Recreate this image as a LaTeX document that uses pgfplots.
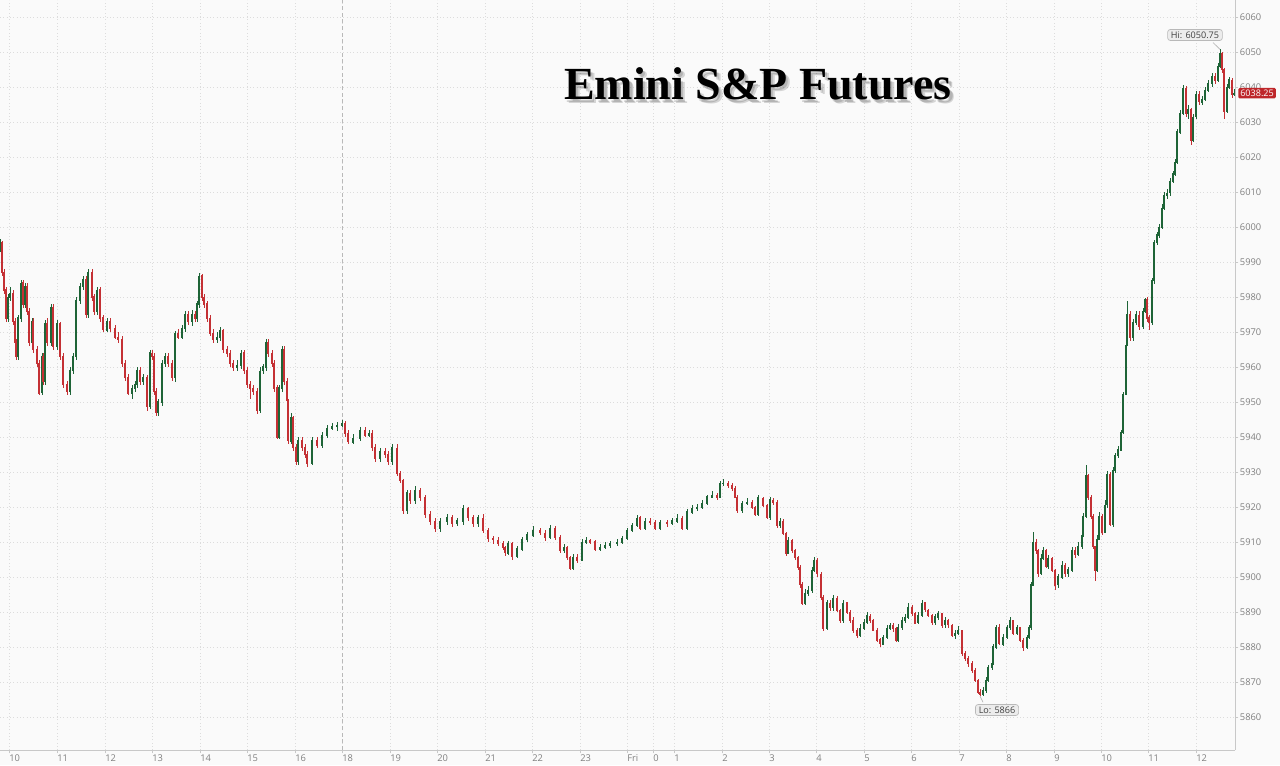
\documentclass[border=0pt]{standalone}
\usepackage{fontspec}
\usepackage{pgfplots}
\usepackage{pgfplotstable}
\pgfplotsset{compat=1.18}
\setsansfont{Open Sans}
\newfontfamily\titlefont{Liberation Serif}

\definecolor{bgcol}{RGB}{250,250,250}
\definecolor{upcol}{RGB}{30,100,55}
\definecolor{dncol}{RGB}{196,48,52}
\definecolor{gridcol}{RGB}{220,220,220}
\definecolor{axcol}{RGB}{200,200,200}
\definecolor{tickcol}{RGB}{128,128,128}
\definecolor{tagred}{RGB}{190,38,42}

% x = pixel column of the bar, o h l c = open high low close
\pgfplotstableread{
x o h l c
0 5994 5996.5 5993 5995.5
2 5995.5 5996 5986 5987
4 5987 5988 5981 5982
6 5982 5983 5973 5974
8 5974 5981 5973 5980
10 5980 5983 5979 5981
13 5981 5982 5972 5973
15 5973 5974 5966 5967
16 5967 5968 5962 5963
18 5963 5975 5962 5974
21 5974 5985 5973 5984
23 5984 5985 5977 5978
25 5978 5984 5977 5983
27 5983 5984 5975 5976
29 5976 5977 5966 5967
32 5967 5974 5966 5973
33 5973 5974 5964 5965
37 5965 5966 5960 5961
39 5961 5962 5952 5952.6
42 5952.6 5964 5952 5963
43 5963 5964 5955 5956
45 5956 5973.5 5955 5972.5
47 5972.5 5974 5966 5967
51 5967 5978 5966 5977
53 5977 5978 5965 5966
57 5966 5973.5 5965 5972.5
60 5972.5 5973 5962 5963
63 5963 5964 5954 5955
67 5955 5956 5952 5953
70 5953 5960 5952 5959
73 5959 5964 5958 5963
76 5963 5980 5962 5979
80 5979 5984 5978 5983
83 5983 5986 5982 5985
86 5985 5986 5974 5975
88 5975 5988 5974 5987
92 5987 5988 5979 5980
94 5980 5981 5975 5976
97 5976 5983 5975 5982
100 5982 5983 5973 5974
103 5974 5975 5970 5970.6
107 5970.6 5974 5970 5973
110 5973 5974 5970 5971
115 5971 5972 5968 5968.6
118 5968.6 5970 5967 5968
122 5968 5969 5960 5961
125 5961 5962 5956 5957
128 5957 5958 5952 5952.6
132 5952.6 5955 5951 5954
135 5954 5956 5953 5955
137 5955 5960 5954 5959
140 5959 5960 5955 5956
143 5956 5958 5955 5957
147 5957 5958 5947.5 5948.6
150 5948.6 5965 5948 5964
152 5964 5965 5962 5963
154 5963 5964 5952 5953
156 5953 5954 5946 5947
158 5947 5951 5946 5950
162 5950 5962 5949 5961
165 5961 5964 5960 5963
168 5963 5964 5960 5961
172 5961 5962 5956 5957
175 5957 5970.5 5956 5969.7
178 5969.7 5971 5968 5968.6
182 5968.6 5972 5968 5971
185 5971 5976 5970 5975
188 5975 5976 5972 5973
192 5973 5976.5 5972 5975
195 5975 5976 5973 5974
197 5974 5979 5973 5978
199 5978 5987 5977 5986
202 5986 5986.5 5979 5980
204 5980 5981 5977 5978
207 5978 5979 5973 5974
210 5974 5975 5969 5969.7
213 5969.7 5971 5967 5968
217 5968 5970 5967 5968.6
220 5968.6 5971.5 5967.5 5970.6
223 5970.6 5971 5964 5965
227 5965 5966 5963 5964
230 5964 5965 5960 5961
233 5961 5962 5959 5960
237 5960 5962 5959 5960.6
241 5960.6 5965 5959.5 5964
244 5964 5965 5958 5959
247 5959 5960 5954 5955
250 5955 5956 5951 5954
253 5954 5955 5952 5953
257 5953 5954 5946.5 5947.7
260 5947.7 5960 5947 5959
263 5959 5961 5958 5960
266 5960 5968 5959 5967
268 5967 5968 5963 5964
272 5964 5965 5960 5961
274 5961 5962 5953 5954
277 5954 5955 5939.5 5940
279 5940 5955 5939.5 5954
282 5954 5966 5953 5965
284 5965 5966 5955 5956
287 5956 5957 5950 5950.6
288 5950.6 5951 5938 5939
291 5939 5947 5938 5945.7
293 5945.7 5946 5936 5937
296 5937 5938 5932 5933
298 5933 5940 5932 5939
302 5939 5940 5936 5937
305 5937 5938 5934 5935
307 5935 5936 5931.5 5932.6
312 5932.6 5940 5932 5939
317 5939 5940 5937 5937.7
322 5937.7 5941.5 5937 5940.6
327 5940.6 5943.5 5940 5942.6
332 5942.6 5944 5942 5943
337 5943 5944.5 5942 5943.4
342 5943.4 5945 5943 5944
345 5944 5944.5 5940 5941
348 5941 5942 5938 5938.6
353 5938.6 5941 5938 5939.7
360 5939.7 5943 5939 5942
365 5942 5943 5940 5940.6
369 5940.6 5942 5940 5941
372 5941 5942 5936 5937
375 5937 5938 5933 5934
380 5934 5937 5933 5936
385 5936 5937 5934 5935
388 5935 5936 5932 5933
392 5933 5938 5932 5937
397 5937 5938 5929 5929.7
400 5929.7 5930.5 5927 5927.7
403 5927.7 5928 5918 5919
407 5919 5925 5918 5924
410 5924 5925 5921 5922
415 5922 5926 5921 5924.9
420 5924.9 5925.5 5922 5922.9
425 5922.9 5923.5 5917 5918
430 5918 5919 5915 5916
435 5916 5917 5913 5914
440 5914 5917 5913 5916
447 5916 5918 5915 5917
452 5917 5918 5914.5 5915.4
457 5915.4 5917 5914.5 5916
463 5916 5920.5 5915 5919.7
468 5919.7 5920 5916 5917
473 5917 5918 5914.5 5915.4
478 5915.4 5918 5914.5 5917
483 5917 5918 5912.5 5913.4
488 5913.4 5914 5910 5911
493 5911 5912 5909.5 5910.6
498 5910.6 5911.5 5909 5909.7
503 5909.7 5910.5 5908 5908.5
505 5908.5 5909 5906 5907
508 5907 5910.5 5906.5 5909.7
512 5909.7 5910 5905 5906
517 5906 5909 5905.5 5908
522 5908 5911.5 5907.5 5910.6
527 5910.6 5913 5910 5912
533 5912 5914.5 5911.5 5913.4
540 5913.4 5914 5912 5912.6
545 5912.6 5913.5 5910.5 5911.4
550 5911.4 5915 5911 5914
555 5914 5914.5 5910.5 5911.4
560 5911.4 5912 5907 5907.7
564 5907.7 5909.5 5907 5908.6
567 5908.6 5909 5905 5905.7
570 5905.7 5906 5902 5902.6
573 5902.6 5906.5 5902 5905.7
577 5905.7 5906.5 5904 5904.9
582 5904.9 5911 5904.5 5910
586 5910 5911.5 5909.5 5910.6
590 5910.6 5911 5909.5 5910
595 5910 5910.5 5907.5 5908
600 5908 5909.5 5907.5 5908.6
605 5908.6 5910 5908 5909
610 5909 5910.5 5908.5 5909.7
617 5909.7 5911 5909 5910
622 5910 5912 5909.5 5911
627 5911 5914 5910.5 5913.4
632 5913.4 5915.5 5913 5914.9
637 5914.9 5918 5914.5 5917
640 5917 5917.5 5913.5 5914
645 5914 5917 5913.5 5916
650 5916 5917 5915 5915.7
655 5915.7 5916.5 5913.5 5914
660 5914 5916.5 5913.5 5915.7
667 5915.7 5916.5 5914.5 5915.4
672 5915.4 5917 5915 5916
677 5916 5918 5915.5 5916.9
682 5916.9 5917.5 5913.5 5914
687 5914 5919.5 5913.5 5918.6
692 5918.6 5920.5 5918 5919.7
697 5919.7 5921 5919 5920
702 5920 5922 5919.5 5921
707 5921 5923.5 5920.5 5922.9
712 5922.9 5924.5 5922.5 5923.4
717 5923.4 5924 5922 5922.9
720 5922.9 5927.5 5922.5 5926.9
723 5926.9 5928 5926 5927
728 5927 5927.5 5925.5 5926.3
732 5926.3 5926.8 5924.5 5925.4
735 5925.4 5926 5922.5 5922.9
737 5922.9 5923.5 5918.5 5919
742 5919 5922 5918.5 5921
747 5921 5922.5 5920.5 5921.4
752 5921.4 5922 5919.5 5920
755 5920 5920.5 5917.5 5918
758 5918 5923.5 5917.5 5922.6
763 5922.6 5923 5920 5920.6
767 5920.6 5921 5916.5 5917
770 5917 5923 5916.5 5922
773 5922 5922.5 5920.5 5921.4
777 5921.4 5922 5914 5914.9
780 5914.9 5917 5914 5916
783 5916 5916.5 5912 5912.6
786 5912.6 5913 5906 5906.9
788 5906.9 5911.5 5906.5 5910.6
792 5910.6 5911 5907 5907.7
795 5907.7 5908 5905 5905.7
798 5905.7 5906 5902 5902.9
800 5902.9 5903.5 5897 5898
802 5898 5898.5 5892 5892.6
805 5892.6 5896.5 5892 5895.4
808 5895.4 5897.5 5894.5 5896.3
812 5896.3 5903 5895.5 5902
814 5902 5906 5901.5 5904.9
817 5904.9 5905.5 5900 5901
821 5901 5901.5 5893.5 5894.3
823 5894.3 5895 5884.5 5885.4
827 5885.4 5893.5 5885 5892.6
830 5892.6 5893.5 5890.5 5891.4
833 5891.4 5895 5890.5 5894
837 5894 5894.5 5890 5890.6
840 5890.6 5891 5887 5887.7
843 5887.7 5893.5 5887 5892.6
847 5892.6 5893 5889.5 5890
850 5890 5890.5 5887 5887.7
853 5887.7 5888.5 5884 5884.9
857 5884.9 5885.5 5882.5 5883.4
860 5883.4 5886.5 5883 5885.4
864 5885.4 5888 5885 5887
867 5887 5890 5886.5 5889
870 5889 5889.5 5887 5887.7
873 5887.7 5888 5884.5 5884.9
877 5884.9 5885.5 5881.5 5882
880 5882 5882.5 5880 5881
883 5881 5883.5 5880.5 5882.9
887 5882.9 5886.5 5882.5 5885.4
890 5885.4 5887 5885 5886.3
893 5886.3 5887 5884.5 5885.4
896 5885.4 5886 5881.5 5882
898 5882 5886.5 5881.5 5885.7
902 5885.7 5888.5 5885 5887.7
905 5887.7 5889.5 5887 5888.6
908 5888.6 5892.5 5888 5891.4
912 5891.4 5892 5889 5889.7
915 5889.7 5890 5886.5 5887
918 5887 5890 5886.5 5889
922 5889 5893.5 5888.5 5892.6
925 5892.6 5893 5890 5890.6
928 5890.6 5891 5888.5 5889
932 5889 5889.5 5886.5 5887
935 5887 5889.5 5886.5 5888.6
938 5888.6 5890.5 5888 5889.7
942 5889.7 5890 5885.5 5886.3
945 5886.3 5888.5 5885.5 5887.7
948 5887.7 5888 5885.5 5886.3
952 5886.3 5886.5 5883 5883.4
955 5883.4 5885 5882.5 5884
958 5884 5886 5883.5 5884.9
962 5884.9 5885 5877.5 5878.3
965 5878.3 5879 5876 5876.9
968 5876.9 5877.5 5874.5 5875.4
972 5875.4 5876 5872.5 5873.4
975 5873.4 5874 5870 5870.6
978 5870.6 5871 5866.5 5867
980 5867 5868 5866 5866.5
983 5866.5 5868.5 5866 5867.7
986 5867.7 5871.5 5867 5870.6
988 5870.6 5875 5870 5874.3
992 5874.3 5876.5 5873.5 5875.4
993 5875.4 5881 5875 5880
996 5880 5886.5 5879.5 5885.7
999 5885.7 5886.5 5880.5 5881
1003 5881 5884 5880.5 5882.9
1007 5882.9 5886.5 5882.5 5885.7
1010 5885.7 5888.5 5885 5887.7
1013 5887.7 5888 5883.5 5884
1017 5884 5886.5 5883.5 5885.7
1020 5885.7 5886 5881.5 5882
1023 5882 5882.5 5879 5880
1027 5880 5883.5 5879.5 5882.9
1029 5882.9 5886.5 5882.5 5885.7
1031 5885.7 5898.5 5885 5897.8
1033 5897.8 5913 5897.5 5910
1036 5910 5911 5906.5 5907.6
1038 5907.6 5908 5900 5901
1041 5901 5906.5 5900.5 5905.4
1043 5905.4 5908.5 5905 5907.6
1046 5907.6 5908 5902.5 5903.3
1048 5903.3 5906.5 5902.5 5905.4
1052 5905.4 5906 5901.5 5902
1055 5902 5902.5 5896.5 5897.8
1058 5897.8 5901 5897 5900
1062 5900 5904.5 5899.5 5903.3
1065 5903.3 5904 5900 5901
1068 5901 5903 5900 5902
1072 5902 5908.5 5901.5 5907.6
1075 5907.6 5908.5 5905.5 5906.5
1078 5906.5 5910 5906 5908.7
1082 5908.7 5913 5908 5912
1083 5912 5918.5 5911.5 5917.4
1086 5917.4 5932 5917 5929
1088 5929 5929.5 5922 5922.8
1091 5922.8 5923.5 5916.5 5917.4
1093 5917.4 5918 5908 5908.7
1095 5908.7 5909 5899 5902
1097 5902 5912 5901.5 5910.9
1099 5910.9 5918.5 5910.5 5917.4
1102 5917.4 5918 5912 5913
1105 5913 5922 5912.5 5920.7
1107 5920.7 5930.5 5920 5929.3
1110 5929.3 5930 5914.5 5915.2
1113 5915.2 5931.5 5914.5 5930.4
1115 5930.4 5935.5 5930 5934.8
1118 5934.8 5937.5 5934 5936.4
1121 5936.4 5942 5936 5941.3
1123 5941.3 5953 5941 5952.2
1126 5952.2 5967 5952 5966.3
1127 5966.3 5979 5966 5975
1130 5975 5976 5967.5 5968.5
1133 5968.5 5974 5967.5 5972.8
1136 5972.8 5976 5972 5975
1139 5975 5976 5970.5 5971.7
1143 5971.7 5977 5971 5976
1145 5976 5980 5975.5 5979.3
1147 5979.3 5980 5973 5974
1149 5974 5975 5970.5 5972.8
1152 5972.8 5985.5 5972 5984.8
1154 5984.8 5996.5 5984 5995.7
1157 5995.7 5998.5 5995 5997.8
1159 5997.8 6001 5997 6000
1162 6000 6006.5 5999.5 6005.4
1164 6005.4 6010 6005 6009.2
1167 6009.2 6011 6008 6009.8
1170 6009.8 6014 6009 6013
1173 6013 6016 6012.5 6015.2
1175 6015.2 6019.5 6014.5 6018.5
1177 6018.5 6028 6018 6027.2
1180 6027.2 6033.5 6026.5 6032.6
1183 6032.6 6040.5 6032 6039.7
1186 6039.7 6040.5 6031.5 6032.6
1188 6032.6 6035 6031 6033.7
1191 6033.7 6034 6023.5 6025
1193 6025 6032.5 6024.5 6031.5
1196 6031.5 6039 6031 6038
1199 6038 6039 6035 6035.9
1202 6035.9 6037.5 6035 6036.5
1205 6036.5 6040 6036 6039.1
1208 6039.1 6042 6038.5 6041
1212 6041 6044 6040 6043
1215 6043 6044 6041 6042
1218 6042 6047 6041.5 6046
1220 6046 6050.75 6045.5 6049.5
1222 6049.5 6050 6044 6045
1224 6045 6045.5 6031 6033
1227 6033 6041 6032.5 6040
1229 6040 6043 6039.5 6042
1232 6042 6042.5 6037 6038
1234 6038 6039.5 6037.5 6038.25
}\candles

\begin{document}
\begin{tikzpicture}
\path[use as bounding box, fill=bgcol] (0,-11.25pt) rectangle (960pt,562.5pt);
\begin{axis}[
  at={(0,0)}, anchor=south west,
  width=926.25pt, height=562.5pt, scale only axis,
  xmin=0, xmax=1235, ymin=5850.57, ymax=6064.86,
  axis x line*=bottom, axis y line*=right,
  axis line style={draw=axcol, line width=0.75pt, -},
  xtick={9,57,105,152,200,247,295,342,390,437,485,532,580,627,653,674,722,769,816,864,911,959,1006,1054,1101,1148,1196},
  xticklabels={10,11,12,13,14,15,16,18,19,20,21,22,23,Fri,0,1,2,3,4,5,6,7,8,9,10,11,12},
  ytick={5860,5870,...,6060},
  tick align=outside, major tick length=2.5pt,
  tick style={draw=axcol, line width=0.5pt},
  grid=major, grid style={draw=gridcol, line width=0.5pt, dotted},
  tick label style={font=\sffamily\fontsize{7}{8}\selectfont, text=tickcol},
  x tick label style={anchor=north west, inner sep=1pt, xshift=-1pt},
  y tick label style={anchor=west, inner sep=1pt, /pgf/number format/1000 sep={}},
  /pgf/number format/assume math mode=true,
  clip=false,
]
% session break
\draw[draw=gray!55, line width=0.5pt, dash pattern=on 3pt off 2pt] (axis cs:342,5850.57) -- (axis cs:342,6064.86);

% wicks
\addplot[draw=none, mark=none, forget plot,
  restrict expr to domain={\thisrow{c}-\thisrow{o}}{0:1000},
  error bars/.cd, y dir=both, y explicit, error mark=none,
  error bar style={draw=upcol, line width=0.6pt}]
  table[x=x, y expr={(\thisrow{h}+\thisrow{l})/2}, y error expr={(\thisrow{h}-\thisrow{l})/2}] {\candles};
\addplot[draw=none, mark=none, forget plot,
  restrict expr to domain={\thisrow{c}-\thisrow{o}}{-1000:-0.001},
  error bars/.cd, y dir=both, y explicit, error mark=none,
  error bar style={draw=dncol, line width=0.6pt}]
  table[x=x, y expr={(\thisrow{h}+\thisrow{l})/2}, y error expr={(\thisrow{h}-\thisrow{l})/2}] {\candles};
% bodies
\addplot[draw=none, mark=none, forget plot,
  restrict expr to domain={\thisrow{c}-\thisrow{o}}{0:1000},
  error bars/.cd, y dir=both, y explicit, error mark=none,
  error bar style={draw=upcol, line width=1.6pt}]
  table[x=x, y expr={(\thisrow{o}+\thisrow{c})/2}, y error expr={abs(\thisrow{c}-\thisrow{o})/2+0.15}] {\candles};
\addplot[draw=none, mark=none, forget plot,
  restrict expr to domain={\thisrow{c}-\thisrow{o}}{-1000:-0.001},
  error bars/.cd, y dir=both, y explicit, error mark=none,
  error bar style={draw=dncol, line width=1.6pt}]
  table[x=x, y expr={(\thisrow{o}+\thisrow{c})/2}, y error expr={abs(\thisrow{c}-\thisrow{o})/2+0.15}] {\candles};

% title with soft shadow
\node[font=\titlefont\bfseries\fontsize{34.5}{40}\selectfont, anchor=base, text=black, opacity=0.15]
  at ([xshift=1.6pt, yshift=-1.6pt]axis cs:758,6036.3) {Emini S\&P Futures};
\node[font=\titlefont\bfseries\fontsize{34.5}{40}\selectfont, anchor=base, text=black, opacity=0.15]
  at ([xshift=3pt, yshift=-3pt]axis cs:758,6036.3) {Emini S\&P Futures};
\node[font=\titlefont\bfseries\fontsize{34.5}{40}\selectfont, anchor=base, text=black]
  at (axis cs:758,6036.3) {Emini S\&P Futures};

% high / low callouts
\draw[draw=gray!60, line width=0.5pt] (axis cs:1213,6052.7) -- (axis cs:1220,6050.75);
\node[font=\sffamily\fontsize{6.8}{8}\selectfont, text=black!75, fill=gray!15, draw=gray!55,
  rounded corners=2pt, inner xsep=2.5pt, inner ysep=1.6pt, line width=0.5pt]
  at (axis cs:1195,6054.86) {Hi: 6050.75};
\draw[draw=gray!60, line width=0.5pt] (axis cs:983,5864.2) -- (axis cs:980,5866);
\node[font=\sffamily\fontsize{6.8}{8}\selectfont, text=black!75, fill=gray!15, draw=gray!55,
  rounded corners=2pt, inner xsep=2.5pt, inner ysep=1.6pt, line width=0.5pt]
  at (axis cs:997,5862.0) {Lo: 5866};

% last price tag
\node[font=\sffamily\fontsize{6.8}{8}\selectfont, text=white, fill=tagred,
  rounded corners=1pt, inner xsep=1.5pt, inner ysep=1.4pt]
  at (axis cs:1257,6038.25) {6038.25};
\end{axis}
\end{tikzpicture}
\end{document}
